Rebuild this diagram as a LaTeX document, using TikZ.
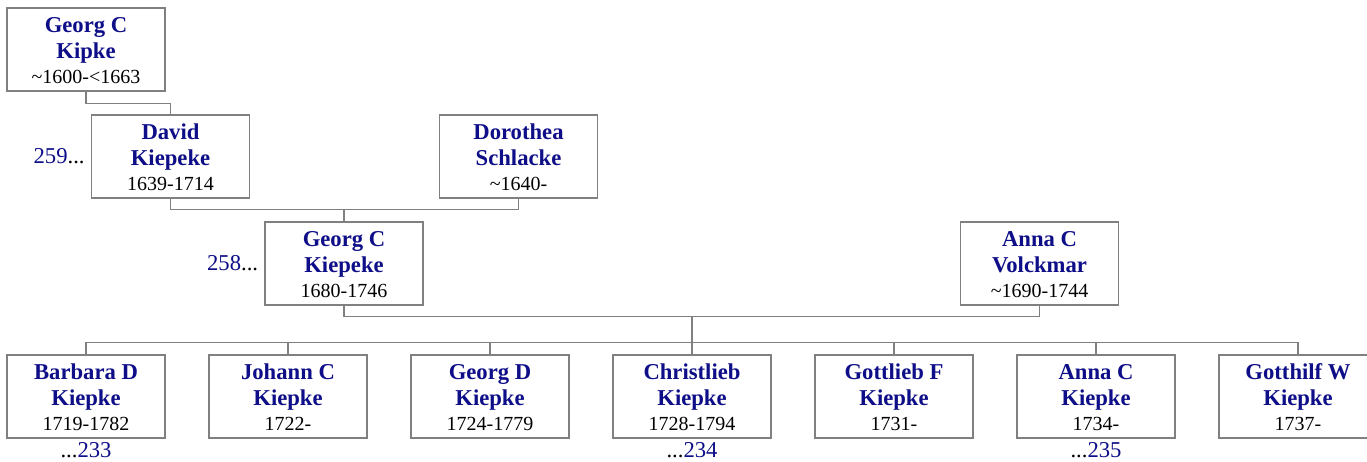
\documentclass[tikz,border=0pt]{standalone}
\usepackage{fontspec}
\setmainfont{Liberation Serif}
\usetikzlibrary{calc}

\definecolor{namecol}{RGB}{14,14,136}
\definecolor{boxgray}{RGB}{128,128,128}

% name (two lines) and dates of one person
\newcommand{\person}[3]{\textbf{\color{namecol}#1}\\\textbf{\color{namecol}#2}\\[-1.4pt]{\fontsize{15}{17}\selectfont #3}}

\begin{document}
\begin{tikzpicture}[x=0.75pt, y=-0.75pt,
    personbox/.style={draw=boxgray, line width=0.9pt, fill=white, inner sep=0pt,
      minimum width=118.5pt, minimum height=62.25pt, align=center,
      text height=56.6pt, text depth=5.65pt, font=\fontsize{17}{19.9}\selectfont},
    link/.style={draw=boxgray, line width=0.9pt},
    refnum/.style={inner sep=0pt, font=\fontsize{17}{20}\selectfont}]
        \useasboundingbox (0,0) rectangle (1367,461);
        \clip (0,0) rectangle (1367,461);

        % grandparents
        \node[personbox] (gck) at (86,49.5) {\person{Georg C}{Kipke}{\textasciitilde1600-<1663}};
        \node[personbox] (david) at (170.5,156.5) {\person{David}{Kiepeke}{1639-1714}};
        \node[personbox] (dorothea) at (518.5,156.5) {\person{Dorothea}{Schlacke}{\textasciitilde1640-}};

        % parents
        \node[personbox] (georg) at (344,263.5) {\person{Georg C}{Kiepeke}{1680-1746}};
        \node[personbox] (anna) at (1039.5,263.5) {\person{Anna C}{Volckmar}{\textasciitilde1690-1744}};

        % children
        \node[personbox] (c1) at (86,396.5) {\person{Barbara D}{Kiepke}{1719-1782}};
        \node[personbox] (c2) at (288,396.5) {\person{Johann C}{Kiepke}{1722-}};
        \node[personbox] (c3) at (490,396.5) {\person{Georg D}{Kiepke}{1724-1779}};
        \node[personbox] (c4) at (692,396.5) {\person{Christlieb}{Kiepke}{1728-1794}};
        \node[personbox] (c5) at (894,396.5) {\person{Gottlieb F}{Kiepke}{1731-}};
        \node[personbox] (c6) at (1096,396.5) {\person{Anna C}{Kiepke}{1734-}};
        \node[personbox] (c7) at (1298,396.5) {\person{Gotthilf W}{Kiepke}{1737-}};

        % references
        \node[refnum, anchor=east] (r259) at ([xshift=-4.5pt]david.west) {\color{namecol}259\color{black}...};
        \node[refnum, anchor=east] (r258) at ([xshift=-4.5pt]georg.west) {\color{namecol}258\color{black}...};
        \node[refnum, anchor=base] (r233) at ([yshift=-14pt]c1.south) {...\color{namecol}233};
        \node[refnum, anchor=base] (r234) at ([yshift=-14pt]c4.south) {...\color{namecol}234};
        \node[refnum, anchor=base] (r235) at ([yshift=-14pt]c6.south) {...\color{namecol}235};

        % lines
        \draw[link] (gck.south) -- ++(0,12) -| (david.north);
        \draw[link] (david.south) -- ++(0,11) coordinate (dd) -| (dorothea.south);
        \draw[link] (georg.north) -- (georg.north |- dd);
        \draw[link] (georg.south) -- ++(0,11) coordinate (ga) -| (anna.south);
        \draw[link] (c1.north) -- ++(0,-12) coordinate (bus) -| (c7.north);
        \draw[link] (c4.north) -- (c4.north |- ga);
        \draw[link] (c2.north) -- (c2.north |- bus);
        \draw[link] (c3.north) -- (c3.north |- bus);
        \draw[link] (c5.north) -- (c5.north |- bus);
        \draw[link] (c6.north) -- (c6.north |- bus);
      \end{tikzpicture}
\end{document}
